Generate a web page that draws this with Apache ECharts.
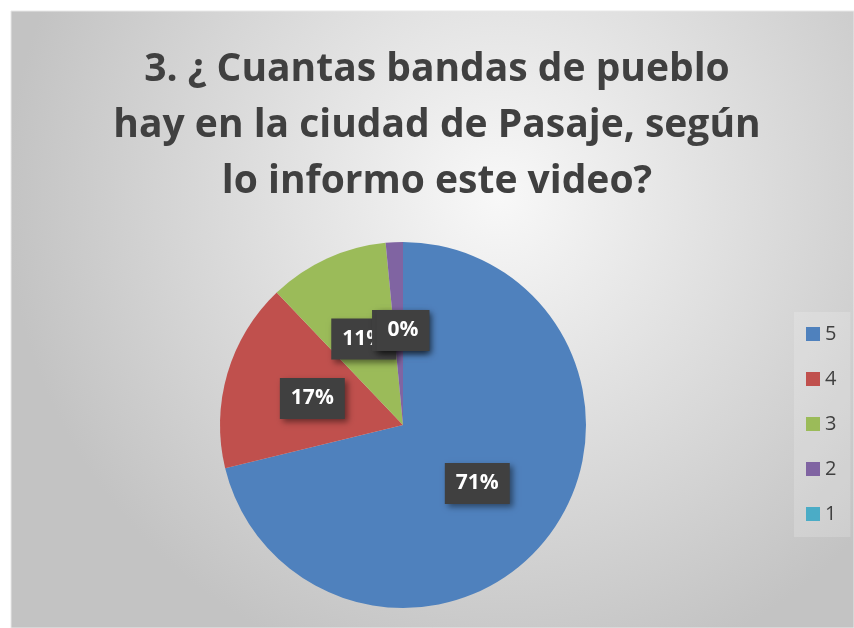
<!DOCTYPE html>
<html>
<head>
<meta charset="utf-8">
<script src="https://cdn.jsdelivr.net/npm/echarts@6/dist/echarts.min.js"></script>
<style>
html,body{margin:0;padding:0;background:#fff;}
#main{width:854px;height:628px;}
</style>
</head>
<body>
<div id="main"></div>
<script>
const titleText = '3. ¿ Cuantas bandas de pueblo\nhay en la ciudad de Pasaje, según\nlo informo este video?';
const categories = ['5', '4', '3', '2', '1'];
const counts = [47, 11, 7, 1, 0];
const colors = ['#4F81BD', '#C0504D', '#9BBB59', '#8064A2', '#4BACC6'];

const chart = echarts.init(document.getElementById('main'));
const data = categories.map((c, i) => ({ name: c, value: counts[i] }));

chart.setOption({
  animation: false,
  color: colors,
  graphic: [{
    type: 'rect',
    z: -10,
    silent: true,
    shape: { x: 11, y: 11, width: 843, height: 617 },
    style: {
      fill: new echarts.graphic.RadialGradient(0.58, 0.3, 0.8, [
        { offset: 0, color: '#f8f8f8' },
        { offset: 1, color: '#c3c3c3' }
      ]),
      stroke: '#e8e8e8',
      lineWidth: 1
    }
  }],
  title: {
    text: titleText,
    left: 432,
    textAlign: 'center',
    top: 37,
    textStyle: {
      fontFamily: 'Open Sans',
      fontWeight: 'bold',
      fontSize: 39,
      lineHeight: 56,
      color: '#404040'
    }
  },
  legend: {
    orient: 'vertical',
    left: 794,
    top: 312,
    icon: 'rect',
    itemWidth: 14,
    itemHeight: 14,
    itemGap: 23,
    padding: [11, 14, 12, 12],
    backgroundColor: 'rgba(255,255,255,0.18)',
    textStyle: { fontFamily: 'Open Sans', fontSize: 20, color: '#404040', lineHeight: 22 },
    data: categories
  },
  series: [{
    type: 'pie',
    center: [403, 425],
    radius: [0, 183],
    startAngle: 90,
    clockwise: true,
    avoidLabelOverlap: false,
    minShowLabelAngle: 0,
    percentPrecision: 0,
    labelLayout: { hideOverlap: false },
    label: {
      show: true,
      position: 'inside',
      formatter: '{d}%',
      fontFamily: 'Open Sans',
      fontWeight: 'bold',
      fontSize: 21,
      color: '#ffffff',
      backgroundColor: '#404040',
      padding: [10, 11, 10, 11],
      shadowColor: 'rgba(0,0,0,0.45)',
      shadowBlur: 6,
      shadowOffsetX: 3,
      shadowOffsetY: 3
    },
    labelLine: { show: false },
    itemStyle: { borderWidth: 0 },
    emphasis: { disabled: true },
    data: data
  }]
});
</script>
</body>
</html>
